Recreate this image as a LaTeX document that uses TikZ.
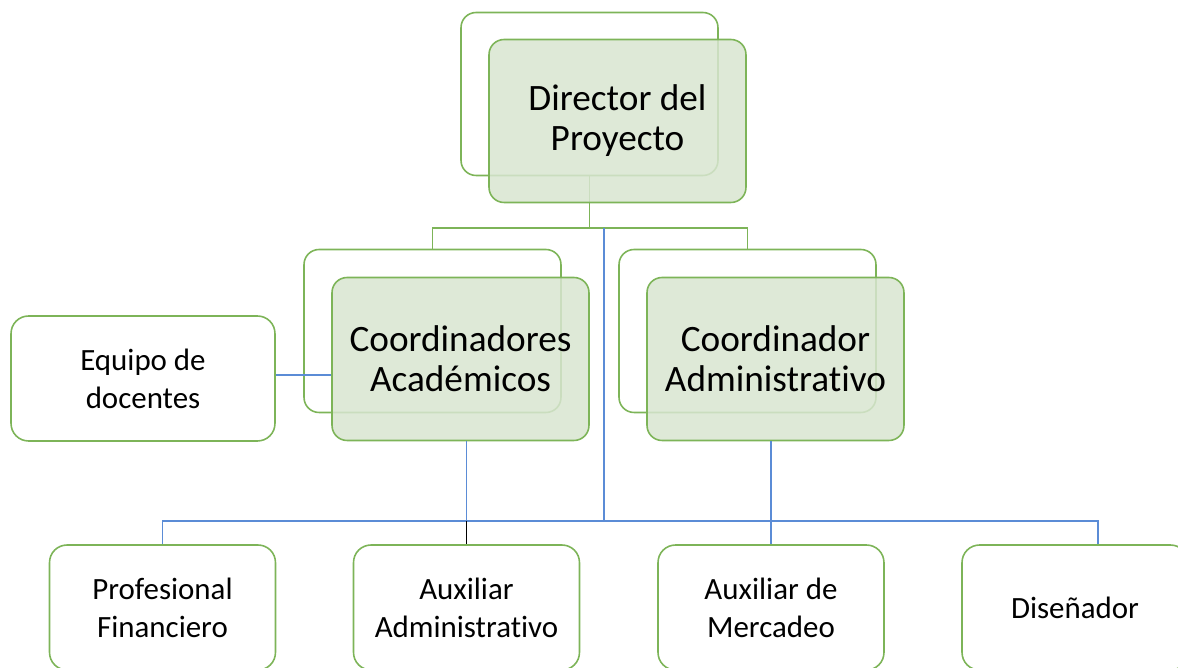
\documentclass[tikz,border=0pt]{standalone}
\usepackage{fontspec}
\setmainfont[Ligatures=NoCommon]{Carlito}
\usetikzlibrary{positioning}
\definecolor{boxgreen}{RGB}{125,180,88}
\definecolor{boxfill}{RGB}{216,229,208}
\definecolor{lineblue}{RGB}{91,140,214}

\begin{document}
\begin{tikzpicture}[x=0.02cm,y=-0.02cm]
%\tikzstyle{back} = [draw=boxgreen, rounded corners=0.3cm]
\tikzstyle{back} = [draw=boxgreen, line width=0.9pt, rounded corners=0.3cm, minimum width=5.14cm, minimum height=3.26cm]
\tikzstyle{front} = [back, fill=boxfill, fill opacity=0.85, text opacity=1, align=center, font=\fontsize{21.2}{22.7}\selectfont]
\tikzstyle{plain} = [draw=boxgreen, line width=0.9pt, fill=white, rounded corners=0.35cm, minimum height=2.5cm, align=center, font=\fontsize{17.6}{21.5}\selectfont]
\tikzstyle{green line} = [draw=boxgreen, line width=1pt]
\tikzstyle{blue line} = [draw=lineblue, line width=1pt]
\useasboundingbox (0,0) rectangle (1178,668);
\clip (0,0) rectangle (1178,668);

% back boxes
\node[back] (dirB) at (589.5,94) {};
\node[back] (acaB) at (432.5,331) {};
\node[back] (admB) at (747.5,331) {};

% green branch
\coordinate (mid) at (589.5,228);
\draw[green line] (dirB.south) -- (mid);
\draw[green line] (acaB.north) |- (mid) -| (admB.north);

% blue trunk
\coordinate (trunk) at (604,228);
\coordinate (bus) at (604,521);
\draw[blue line] (trunk) -- (bus);

% side and bottom boxes
\node[plain, minimum width=5.28cm] (equipo) at (143,378.5) {Equipo de\\docentes};
\node[plain, minimum width=4.52cm] (prof) at (162.5,607.5) {Profesional\\Financiero};
\node[plain, minimum width=4.52cm] (auxadm) at (466.5,607.5) {Auxiliar\\Administrativo};
\node[plain, minimum width=4.52cm] (auxmer) at (771,607.5) {Auxiliar de\\Mercadeo};
\node[plain, minimum width=4.52cm] (dis) at (1075,607.5) {Diseñador};

% front boxes
\node[front] (dirF) at (617.5,121) {Director del\\Proyecto};
\node[front] (acaF) at (460.5,359) {Coordinadores\\Académicos};
\node[front] (admF) at (775.5,359) {Coordinador\\Administrativo};

\draw[blue line] (prof.north) |- (bus) -| ([xshift=0.46cm]dis.north);
\draw[blue line] (auxadm.north |- acaF.south) -- (auxadm.north |- bus);
\draw[black, line width=1pt] (auxadm.north |- bus) -- (auxadm.north);
\draw[blue line] (auxmer.north |- admF.south) -- (auxmer.north);
\draw[blue line] (equipo.east |- 0,375) -- (acaF.west |- 0,375);
\end{tikzpicture}
\end{document}
